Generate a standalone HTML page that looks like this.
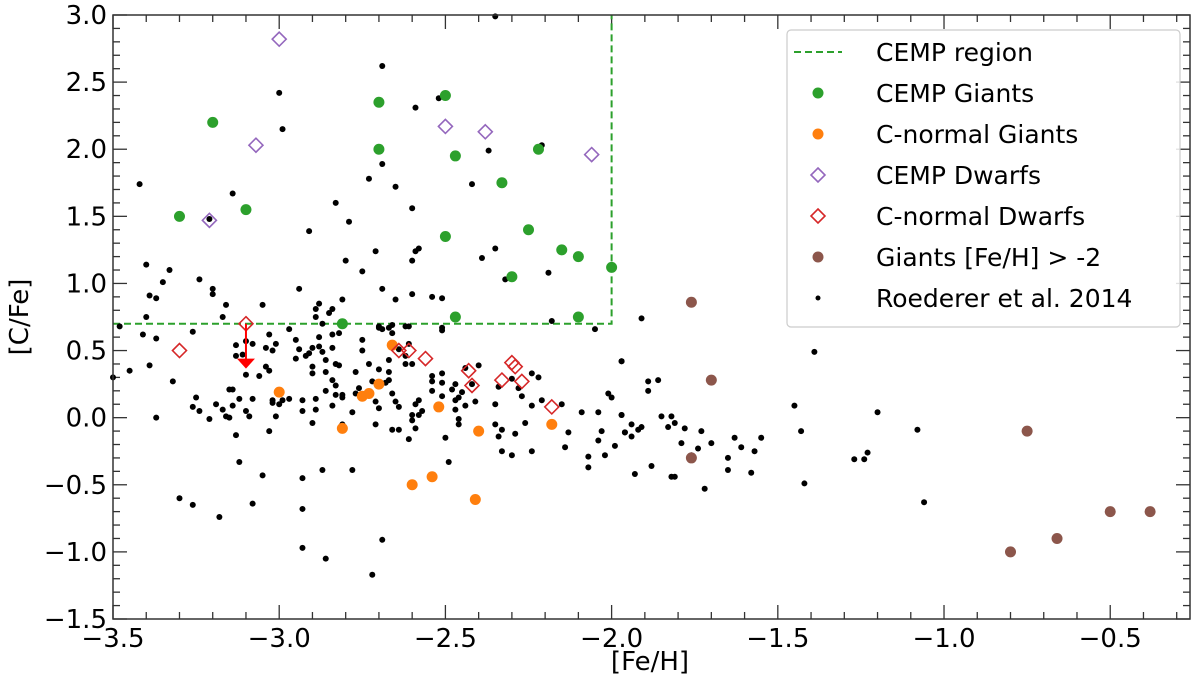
<!DOCTYPE html>
<html><head><meta charset="utf-8"><style>
html,body{margin:0;padding:0;background:#fff;}
svg{display:block;font-family:"DejaVu Sans","Liberation Sans",sans-serif;}
</style></head><body>
<svg id="chart" width="1200" height="688" viewBox="0 0 1200 688" xmlns="http://www.w3.org/2000/svg"></svg>
<script>
// ---- data ----
const xTicks = [-3.5, -3.0, -2.5, -2.0, -1.5, -1.0, -0.5];
const xTickLabels = ["\u22123.5", "\u22123.0", "\u22122.5", "\u22122.0", "\u22121.5", "\u22121.0", "\u22120.5"];
const yTicks = [3.0, 2.5, 2.0, 1.5, 1.0, 0.5, 0.0, -0.5, -1.0, -1.5];
const yTickLabels = ["3.0", "2.5", "2.0", "1.5", "1.0", "0.5", "0.0", "\u22120.5", "\u22121.0", "\u22121.5"];
const cempFeLimit = -2.0;
const cempCLimit = 0.7;

const roedFe = [-2.35,-2.69,-3.0,-2.52,-2.59,-2.99,-2.21,-2.37,-2.69,-3.42,-2.73,-2.65,-2.42,-3.14,-2.83,-2.60,-3.21,-2.79,-2.91,-2.71,-2.59,-2.58,-2.35,-2.39,-2.80,-2.60,-3.40,-3.33,-2.75,-3.35,-3.24,-2.32,-2.19,-3.39,-3.37,-3.20,-3.20,-2.94,-2.69,-2.60,-2.54,-2.51,-2.65,-2.81,-3.16,-3.05,-2.88,-2.89,-2.84,-2.85,-3.40,-3.17,-2.89,-2.18,-2.87,-3.48,-2.70,-2.66,-2.61,-2.51,-2.97,-2.05,
-3.41,-3.37,-3.26,-3.03,-3.01,-3.04,-3.02,-3.13,-3.10,-3.08,-3.13,-3.11,-3.10,-3.06,-3.04,-3.03,-3.39,-3.45,-3.50,-3.32,-3.37,-3.25,-3.26,-3.24,-3.21,-3.19,-3.17,-3.16,-3.15,-3.14,-3.15,-3.14,-3.12,-3.10,-3.09,-3.08,-3.13,-3.12,-3.05,-3.08,-3.30,-3.26,-3.18,-3.03,-3.01,-3.02,-3.02,-3.00,-2.99,-2.97,-2.95,-2.94,-2.95,-2.92,-2.91,-2.90,-2.88,-2.88,-2.87,-2.86,-2.84,-2.84,-2.82,-2.90,-2.90,-2.86,-2.83,-2.82,-2.84,-2.83,-2.86,-2.83,-2.81,-2.81,-2.84,-2.89,-2.89,-2.93,-2.93,-2.90,-2.81,-2.78,-2.77,-2.76,-2.77,-2.75,-2.75,-2.73,-2.70,-2.72,-2.67,-2.67,-2.67,-2.68,-2.64,-2.62,-2.62,-2.61,-2.60,-2.66,-2.65,-2.64,-2.71,-2.70,-2.71,-2.66,-2.64,-2.61,-2.60,-2.60,-2.59,-2.58,-2.57,-2.58,-2.59,-2.54,-2.54,-2.51,-2.51,-2.54,-2.51,-2.48,-2.47,-2.45,-2.46,-2.47,-2.47,-2.44,-2.41,-2.46,-2.46,-2.50,-2.49,-2.44,-2.42,-2.40,-2.35,-2.34,-2.35,-2.33,-2.34,-2.33,-2.30,-2.29,-2.30,-2.28,-2.27,-2.26,-2.24,-2.24,-2.22,-2.24,-2.21,-2.15,-2.13,-2.14,-2.09,-2.07,-2.07,-2.04,-2.04,-2.03,-2.02,-2.01,-2.00,-1.99,-1.97,-1.96,-1.97,-2.93,-2.93,-2.93,-2.87,-2.86,-2.78,-2.69,-2.72,-2.62,-2.70,-2.69,-2.67,-2.66,-2.51,
-1.91,-1.39,-1.97,-1.89,-1.86,-1.89,-1.97,-1.96,-1.94,-1.94,-1.92,-1.91,-1.85,-1.82,-1.83,-1.81,-1.78,-1.73,-1.79,-1.93,-1.88,-1.82,-1.81,-1.76,-1.74,-1.72,-1.70,-1.65,-1.65,-1.63,-1.61,-1.58,-1.57,-1.55,-1.45,-1.43,-1.42,-1.27,-1.24,-1.23,-1.20,-1.08,-1.06];
const roedC = [2.99,2.62,2.42,2.38,2.31,2.15,2.03,1.99,1.89,1.74,1.78,1.72,1.74,1.67,1.60,1.56,1.48,1.46,1.39,1.24,1.24,1.26,1.26,1.19,1.17,1.17,1.14,1.10,1.09,1.01,1.03,1.03,1.08,0.91,0.89,0.96,0.92,0.96,0.96,0.92,0.90,0.89,0.88,0.88,0.84,0.84,0.85,0.81,0.81,0.78,0.75,0.75,0.75,0.72,0.70,0.68,0.68,0.69,0.68,0.67,0.66,0.66,
0.62,0.59,0.64,0.62,0.55,0.52,0.50,0.54,0.57,0.55,0.46,0.47,0.32,0.31,0.38,0.35,0.39,0.35,0.30,0.27,0.00,0.15,0.08,0.05,-0.01,0.10,0.06,0.01,0.00,0.09,0.21,0.21,0.14,0.05,0.01,0.14,-0.13,-0.33,-0.43,-0.64,-0.60,-0.65,-0.74,-0.10,0.01,0.11,0.13,0.10,0.13,0.14,0.58,0.51,0.44,0.46,0.48,0.52,0.60,0.53,0.49,0.43,0.52,0.62,0.63,0.38,0.33,0.34,0.40,0.39,0.28,0.24,0.20,0.17,0.17,0.15,0.09,0.14,0.06,0.13,0.05,-0.04,-0.05,0.04,0.18,0.22,0.34,0.58,0.50,0.40,0.36,0.27,0.34,0.43,0.28,0.26,0.51,0.46,0.40,0.55,0.40,0.18,0.12,0.08,0.12,0.07,-0.05,-0.09,-0.09,-0.16,0.02,-0.02,0.10,0.13,0.05,0.02,-0.08,0.31,0.27,0.33,0.26,0.20,0.16,0.21,0.25,0.19,0.15,0.13,0.06,0.09,0.12,-0.01,-0.05,-0.15,-0.33,0.37,0.25,0.39,0.10,0.23,-0.05,-0.09,-0.14,-0.25,-0.28,-0.12,0.29,0.22,0.16,-0.04,0.09,0.33,0.30,-0.25,0.13,0.10,-0.11,-0.22,0.04,-0.29,-0.37,0.04,-0.17,-0.10,-0.28,0.18,0.15,-0.21,0.02,-0.11,0.42,-0.45,-0.68,-0.97,-0.39,-1.05,-0.39,-0.91,-1.17,0.68,0.67,0.66,0.67,0.63,0.65,
0.74,0.49,0.42,0.27,0.28,0.20,0.02,-0.11,-0.05,-0.14,-0.09,-0.07,0.01,0.01,-0.07,-0.04,-0.08,-0.10,-0.19,-0.42,-0.36,-0.44,-0.44,-0.28,-0.23,-0.53,-0.19,-0.30,-0.39,-0.15,-0.22,-0.41,-0.25,-0.15,0.09,-0.10,-0.49,-0.31,-0.31,-0.26,0.04,-0.09,-0.63];

const cempGiantFe = [-3.20,-3.30,-3.10,-2.70,-2.50,-2.70,-2.47,-2.33,-2.50,-2.22,-2.25,-2.15,-2.10,-2.30,-2.00,-2.47,-2.10,-2.81];
const cempGiantC  = [2.20,1.50,1.55,2.35,2.40,2.00,1.95,1.75,1.35,2.00,1.40,1.25,1.20,1.05,1.12,0.75,0.75,0.70];
const normGiantFe = [-3.00,-2.81,-2.75,-2.73,-2.70,-2.66,-2.52,-2.40,-2.18,-2.60,-2.54,-2.41];
const normGiantC  = [0.19,-0.08,0.16,0.18,0.25,0.54,0.08,-0.10,-0.05,-0.50,-0.44,-0.61];
const cempDwarfFe = [-3.00,-3.07,-3.21,-2.50,-2.38,-2.06];
const cempDwarfC  = [2.82,2.03,1.47,2.17,2.13,1.96];
const normDwarfFe = [-3.30,-3.10,-2.64,-2.61,-2.56,-2.43,-2.42,-2.33,-2.30,-2.29,-2.27,-2.18];
const normDwarfC  = [0.50,0.70,0.50,0.50,0.44,0.35,0.24,0.28,0.41,0.38,0.27,0.08];
const upperLimitFe = [-3.10];
const upperLimitFrom = [0.70];
const upperLimitTo = [0.38];
const metalGiantFe = [-1.76,-1.70,-1.76,-0.75,-0.80,-0.66,-0.50,-0.38];
const metalGiantC  = [0.86,0.28,-0.30,-0.10,-1.00,-0.90,-0.70,-0.70];

const legendLabels = ["CEMP region","CEMP Giants","C-normal Giants","CEMP Dwarfs","C-normal Dwarfs","Giants [Fe/H] > -2","Roederer et al. 2014"];

// ---- layout ----
const L=113, R=1190, T=15, B=619;
const xMin=-3.5, xMax=-0.26, yMin=-1.5, yMax=3.0;
function sx(v){return L+(v-xMin)/(xMax-xMin)*(R-L);}
function sy(v){return B-(v-yMin)/(yMax-yMin)*(B-T);}
const NS="http://www.w3.org/2000/svg";
const svg=document.getElementById('chart');
function mk(tag,attrs,parent){const e=document.createElementNS(NS,tag);for(const k in attrs)e.setAttribute(k,attrs[k]);(parent||svg).appendChild(e);return e;}

// ticks
const ticksG=mk('g',{});


for(let i=-35;i<=-3;i++){const v=i/10;const X=sx(v);if(X>R)continue;const major=(i%5===0);const len=major?14:7;
 mk('line',{x1:X,x2:X,y1:B,y2:B-len,stroke:'#333','stroke-width':1.3},ticksG);
 mk('line',{x1:X,x2:X,y1:T,y2:T+len,stroke:'#333','stroke-width':1.3},ticksG);}
for(let i=-15;i<=30;i++){const v=i/10;const Y=sy(v);const major=(i%5===0);const len=major?14:7;
 mk('line',{x1:L,x2:L+len,y1:Y,y2:Y,stroke:'#333','stroke-width':1.3},ticksG);
 mk('line',{x1:R,x2:R-len,y1:Y,y2:Y,stroke:'#333','stroke-width':1.3},ticksG);}

xTicks.forEach((v,i)=>{const t=mk('text',{x:sx(v),y:B+28,'font-size':26,'text-anchor':'middle',fill:'#000'});t.textContent=xTickLabels[i];

});
yTicks.forEach((v,i)=>{const t=mk('text',{x:L-6,y:sy(v)+9,'font-size':26,'text-anchor':'end',fill:'#000'});t.textContent=yTickLabels[i];

});

const xt=mk('text',{x:650,y:670,'font-size':26,'text-anchor':'middle',fill:'#000'});xt.textContent='[Fe/H]';


const yt=mk('text',{x:0,y:0,'font-size':26,'text-anchor':'middle',fill:'#000',transform:`translate(28,${(T+B)/2}) rotate(-90)`});yt.textContent='[C/Fe]';



// CEMP region
const region=mk('path',{d:`M${L},${sy(cempCLimit)} H${sx(cempFeLimit)} V${T}`,fill:'none',stroke:'#2ca02c','stroke-width':2,'stroke-dasharray':'7,4'});



// series
const gR=mk('g',{});


roedFe.forEach((v,i)=>{const c=mk('circle',{cx:sx(v),cy:sy(roedC[i]),r:3,fill:'#000'},gR);

});

function dots(fe,cc,color,name){const g=mk('g',{});


fe.forEach((v,i)=>{const c=mk('circle',{cx:sx(v),cy:sy(cc[i]),r:5.5,fill:color},g);

});}
function diamonds(fe,cc,color,name){const g=mk('g',{});


fe.forEach((v,i)=>{const X=sx(v),Y=sy(cc[i]),s=7;const p=mk('path',{d:`M${X},${Y-s} L${X+s},${Y} L${X},${Y+s} L${X-s},${Y} Z`,fill:'none',stroke:color,'stroke-width':1.6},g);

});}

dots(normGiantFe,normGiantC,'#ff7f0e','c-normal-giants');
dots(metalGiantFe,metalGiantC,'#8c564b','metal-rich-giants');
dots(cempGiantFe,cempGiantC,'#2ca02c','cemp-giants');
diamonds(cempDwarfFe,cempDwarfC,'#9467bd','cemp-dwarfs');
diamonds(normDwarfFe,normDwarfC,'#d62728','c-normal-dwarfs');
upperLimitFe.forEach((v,i)=>{const X=sx(v),Y1=sy(upperLimitFrom[i]),Y2=sy(upperLimitTo[i]);
const g=mk('g',{});


mk('line',{x1:X,x2:X,y1:Y1,y2:Y2-6,stroke:'#ff0000','stroke-width':2},g);
mk('path',{d:`M${X-9},${Y2-8} L${X+9},${Y2-8} L${X},${Y2+2} Z`,fill:'#ff0000'},g);});

// frame
const frame=mk('rect',{x:L,y:T,width:R-L,height:B-T,fill:'none',stroke:'#333','stroke-width':1.5});



// legend
const lg=mk('g',{});


mk('rect',{x:787,y:30,width:393,height:297,rx:4,fill:'#fff','fill-opacity':0.85,stroke:'#ccc','stroke-width':1.2},lg);
legendLabels.forEach((lab,i)=>{const y=52+i*41;const mx=818;
 if(i===0)mk('line',{x1:794,x2:842,y1:y,y2:y,stroke:'#2ca02c','stroke-width':2,'stroke-dasharray':'7,4'},lg);
 else if(i===1)mk('circle',{cx:mx,cy:y,r:5.5,fill:'#2ca02c'},lg);
 else if(i===2)mk('circle',{cx:mx,cy:y,r:5.5,fill:'#ff7f0e'},lg);
 else if(i===3||i===4){const s=7,c=i===3?'#9467bd':'#d62728';mk('path',{d:`M${mx},${y-s} L${mx+s},${y} L${mx},${y+s} L${mx-s},${y} Z`,fill:'none',stroke:c,'stroke-width':1.6},lg);}
 else if(i===5)mk('circle',{cx:mx,cy:y,r:5.5,fill:'#8c564b'},lg);
 else mk('circle',{cx:mx,cy:y,r:2.5,fill:'#000'},lg);
 const t=mk('text',{x:876,y:y+9,'font-size':25,fill:'#000'},lg);t.textContent=lab;
 
 
});
</script>
</body></html>
